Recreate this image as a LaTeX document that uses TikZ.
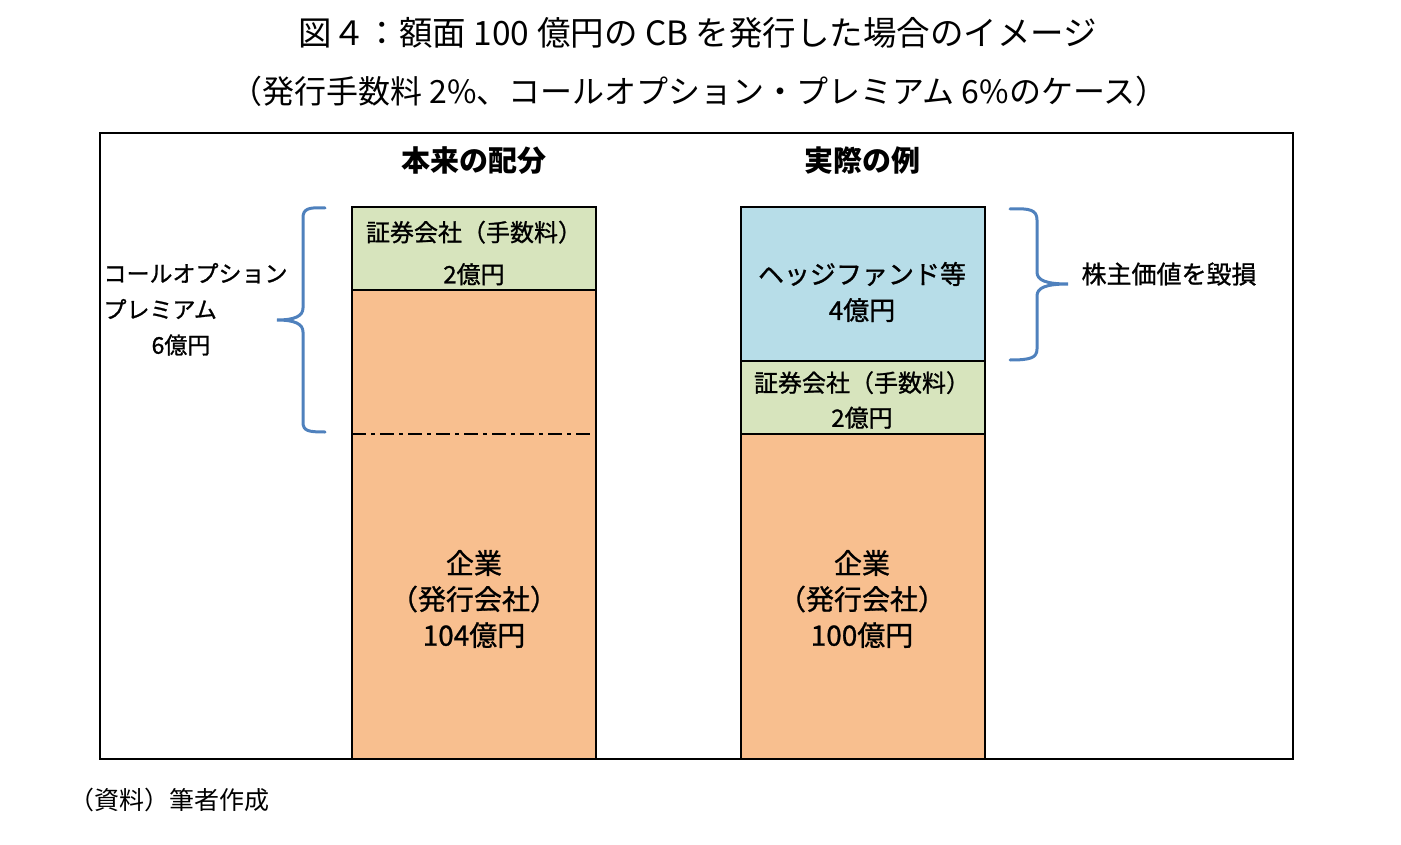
\documentclass[tikz,border=0pt]{standalone}
\usepackage{fontspec}
\setmainfont{Noto Sans CJK JP}
\newfontfamily\jpmed[FakeBold=1]{Noto Sans CJK JP}
\usetikzlibrary{positioning}
\definecolor{feegreen}{HTML}{D7E4BD}
\definecolor{issuerorange}{HTML}{F8BF8F}
\definecolor{hedgeblue}{HTML}{B7DDE8}
\definecolor{bracketblue}{HTML}{4F81BD}

\begin{document}
\begin{tikzpicture}[x=1pt, y=-1pt,
    box/.style={draw=black, line width=2.5pt},
    lbl/.style={font=\fontsize{24}{36}\selectfont\jpmed, align=center},
    big/.style={font=\fontsize{28}{36}\selectfont\jpmed, align=center},
    head/.style={font=\fontsize{29}{34}\selectfont\bfseries},
    brace/.style={draw=bracketblue, line width=3pt, line cap=round}]
  \useasboundingbox (0,0) rectangle (1401,845);
  % Titulo
  \node[font=\fontsize{33.5}{38}\selectfont] (title) at (698,33) {図４：額面 100 億円の CB を発行した場合のイメージ};
  \node[font=\fontsize{32}{38}\selectfont] (subtitle) at (699,91) {（発行手数料 2\%、コールオプション・プレミアム 6\%のケース）};
  % Marco
  \draw[line width=2.5pt] (100,133) rectangle (1293,759);
  \node[head] (idealhead) at (474,161) {本来の配分};
  \node[head] (actualhead) at (862,161) {実際の例};
  % Columna izquierda
  \draw[box, fill=issuerorange] (352,290) rectangle (596,759);
  \draw[box, fill=feegreen] (352,207) rectangle (596,290);
  \draw[line width=2pt, dash pattern=on 14pt off 5pt on 4pt off 5pt] (352,434) -- (596,434);
  \node[lbl, font=\fontsize{24}{42}\selectfont\jpmed] (idealfee) at (474,253) {証券会社（手数料）\\2億円};
  \node[big] (idealissuer) at (474,599) {企業\\（発行会社）\\104億円};
  % Columna derecha
  \draw[box, fill=issuerorange] (741,434) rectangle (985,759);
  \draw[box, fill=feegreen] (741,361) rectangle (985,434);
  \draw[box, fill=hedgeblue] (741,207) rectangle (985,361);
  \node[lbl, font=\fontsize{26}{36}\selectfont\jpmed] (hedge) at (862,292) {ヘッジファンド等\\4億円};
  \node[lbl, font=\fontsize{24}{35}\selectfont\jpmed] (actualfee) at (862,400) {証券会社（手数料）\\2億円};
  \node[big] (actualissuer) at (862,599) {企業\\（発行会社）\\100億円};
  % Llaves
  \draw[brace] (325,208) .. controls (308,207) and (303,209) .. (303,218) -- (303,308)
    .. controls (303,316) and (295,320) .. (277,320)
    .. controls (295,320) and (303,324) .. (303,332) -- (303,422)
    .. controls (303,431) and (308,432) .. (325,432);
  \draw[brace] (1010,209) .. controls (1030,208) and (1037,210) .. (1037,220) -- (1037,272)
    .. controls (1037,280) and (1045,284) .. (1068,284)
    .. controls (1045,284) and (1037,288) .. (1037,296) -- (1037,349)
    .. controls (1037,358) and (1030,360) .. (1010,360);
  \node[lbl, font=\fontsize{23}{36}\selectfont\jpmed, align=left, anchor=west] (premium) at (100,291) {コールオプション\\プレミアム};
  \node[lbl, font=\fontsize{23}{36}\selectfont\jpmed] (premiumamt) at (181,345) {6億円};
  \node[lbl, font=\fontsize{25}{30}\selectfont\jpmed, anchor=west] (damage) at (1078,274) {株主価値を毀損};
  % Fuente
  \node[font=\fontsize{25}{30}\selectfont, anchor=west] (source) at (66,800) {（資料）筆者作成};
\end{tikzpicture}
\end{document}
